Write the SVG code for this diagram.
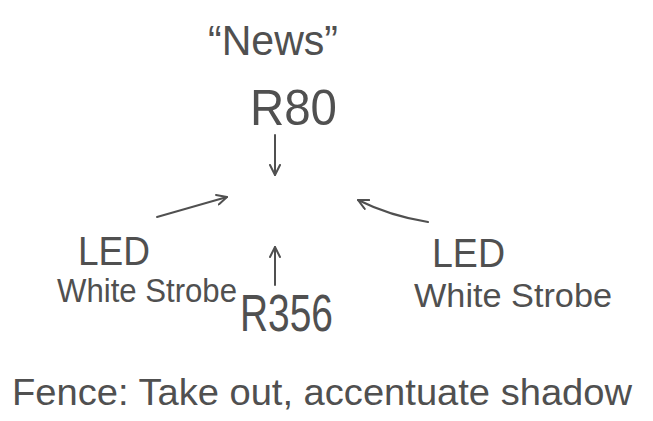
<svg xmlns="http://www.w3.org/2000/svg" width="653" height="421" viewBox="0 0 653 421">
<defs>
<style>
.t{font-family:"Liberation Sans","DejaVu Sans",sans-serif;fill:#505050;}
.c{fill:none;stroke:#505050;stroke-width:2;stroke-linecap:round;stroke-linejoin:round;}
</style>
<marker id="ah" viewBox="0 0 12 12" refX="11" refY="6" markerWidth="12" markerHeight="12" markerUnits="userSpaceOnUse" orient="auto">
<path d="M1,1 L11,6 L1,11" fill="none" stroke="#505050" stroke-width="2" stroke-linecap="round" stroke-linejoin="round"/>
</marker>
</defs>
<rect width="653" height="421" fill="#ffffff"/>
<g id="news"><text class="t" x="208" y="55" font-size="42" textLength="130" lengthAdjust="spacingAndGlyphs">“News”</text></g>
<g id="r80"><text class="t" x="250" y="125" font-size="50" textLength="87" lengthAdjust="spacingAndGlyphs">R80</text></g>
<g id="led-left">
<text class="t" x="78" y="265" font-size="40" textLength="72" lengthAdjust="spacingAndGlyphs">LED</text>
<text class="t" x="57" y="302" font-size="34" textLength="180" lengthAdjust="spacingAndGlyphs">White Strobe</text>
</g>
<g id="r356"><text class="t" x="240" y="331" font-size="52" textLength="93" lengthAdjust="spacingAndGlyphs">R356</text></g>
<g id="led-right">
<text class="t" x="432" y="267" font-size="40" textLength="73" lengthAdjust="spacingAndGlyphs">LED</text>
<text class="t" x="414" y="307" font-size="34" textLength="198" lengthAdjust="spacingAndGlyphs">White Strobe</text>
</g>
<g id="fence-note"><text class="t" x="12" y="405" font-size="37" textLength="620" lengthAdjust="spacingAndGlyphs">Fence: Take out, accentuate shadow</text></g>
<g id="connectors">
<path class="c" d="M275,135 L275,175" marker-end="url(#ah)"/>
<path class="c" d="M157,217 L227,197" marker-end="url(#ah)"/>
<path class="c" d="M428,222 Q390,216 358,200" marker-end="url(#ah)"/>
<path class="c" d="M275,285 L275,247" marker-end="url(#ah)"/>
</g>
</svg>
